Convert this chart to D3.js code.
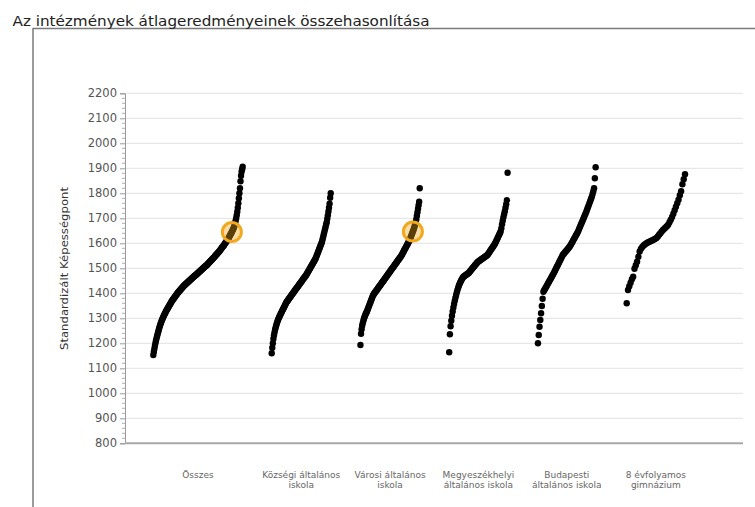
<!DOCTYPE html>
<html><head><meta charset="utf-8">
<script src="https://cdn.jsdelivr.net/npm/d3@7/dist/d3.min.js"></script>
<style>body{margin:0;background:#fff}svg{display:block}</style>
</head><body>
<svg id="chart" width="755" height="507"></svg>
<script>
// ---------------- data ----------------
const chartTitle = "Az intézmények átlageredményeinek összehasonlítása";
const yAxisTitle = "Standardizált Képességpont";
const categories = ["Összes", "Községi általános iskola", "Városi általános iskola",
  "Megyeszékhelyi általános iskola", "Budapesti általános iskola", "8 évfolyamos gimnázium"];
const categoryLabelLines = [["Összes"], ["Községi általános", "iskola"], ["Városi általános", "iskola"],
  ["Megyeszékhelyi", "általános iskola"], ["Budapesti", "általános iskola"], ["8 évfolyamos", "gimnázium"]];
const yTickValues = [800, 900, 1000, 1100, 1200, 1300, 1400, 1500, 1600, 1700, 1800, 1900, 2000, 2100, 2200];

const osszes = [1153,1166,1178,1190,1201,1211,1220,1229,1237,1245,1253,1261,1268,
  1275,1281,1287,1293,1298,1303,1308,1313,1317,1321,
  1326,1330,1334,1338,1341,1345,1349,1353,1356,1360,
  1364,1368,1371,1374,1377,1380,1383,1386,1389,1392,
  1395,1398,1401,1404,1406,1409,1411,1414,1416,1419,
  1421,1424,1426,1429,1431,1433,1435,1437,1439,1441,
  1443,1445,1447,1449,1451,1453,1455,1457,1459,1461,
  1463,1465,1467,1469,1471,1472,1474,1476,1478,1480,
  1482,1484,1486,1488,1490,1492,1494,1496,1498,1500,
  1502,1504,1506,1508,1510,1511,1513,1516,1518,1520,
  1523,1525,1527,1530,1532,1534,1537,1539,1541,1544,
  1546,1549,1551,1554,1556,1558,1561,1563,1566,1568,
  1571,1574,1577,1580,1583,1586,1588,1591,1594,1598,
  1601,1604,1607,1610,1613,1616,1620,1625,1629,1633,
  1637,1641,1645,1650,1654,1659,1664,1672,1681,1690,
  1700,1712,1726,1742,1760,1780,1800,1820,1848,1870,
  1886,1896,1906];
const kozsegi = [1160,1182,1200,1218,1232,1244,1255,1264,1272,1280,1287,
  1293,1299,1304,1309,1314,1319,1323,1328,1333,1337,
  1342,1346,1351,1356,1360,1365,1368,1371,1374,1378,
  1381,1384,1387,1390,1394,1397,1400,1403,1406,1410,
  1413,1416,1419,1422,1425,1428,1431,1435,1438,1441,
  1444,1447,1450,1454,1457,1460,1463,1466,1469,1472,
  1476,1480,1484,1488,1492,1496,1500,1504,1508,1512,
  1516,1520,1524,1528,1532,1536,1541,1547,1553,1559,
  1565,1571,1577,1583,1589,1595,1601,1608,1618,1627,
  1637,1646,1656,1665,1675,1684,1698,1712,1727,1742,
  1758,1782,1800];
const varosi = [1193,1238,1256,1270,1280,1289,1297,1304,1310,1316,
  1321,1325,1331,1337,1343,1349,1355,1361,1367,1373,
  1379,1385,1391,1395,1398,1402,1405,1408,1411,1414,
  1417,1421,1424,1427,1430,1433,1436,1440,1443,1446,
  1449,1452,1455,1459,1462,1465,1468,1471,1475,1478,
  1481,1484,1487,1491,1494,1497,1500,1503,1506,1509,
  1513,1516,1519,1522,1525,1529,1532,1535,1538,1541,
  1545,1548,1551,1555,1560,1564,1568,1573,1577,1581,
  1585,1590,1594,1598,1603,1607,1611,1617,1623,1629,
  1635,1641,1647,1653,1660,1668,1675,1684,1696,1710,
  1724,1738,1752,1766,1820];
const megyeszekhelyi = [1164,1236,1268,1290,1310,1327,1343,1357,1370,1382,
  1393,1404,1414,1423,1431,1438,1444,1450,1455,1460,
  1464,1467,1469,1471,1473,1475,1477,1479,1481,1484,
  1488,1491,1495,1498,1502,1505,1508,1512,1515,1518,
  1522,1525,1527,1529,1531,1533,1535,1537,1539,1541,
  1543,1545,1547,1549,1551,1553,1557,1561,1565,1570,
  1574,1578,1582,1586,1590,1595,1599,1605,1611,1617,
  1623,1629,1635,1641,1647,1660,1676,1690,1704,1716,
  1728,1742,1756,1772,1882];
const budapesti = [1200,1233,1266,1293,1320,1349,1378,1406,1412,1417,
  1423,1428,1434,1440,1445,1451,1456,1462,1468,1473,
  1479,1485,1491,1498,1504,1510,1516,1523,1529,1535,
  1541,1548,1554,1557,1561,1565,1569,1572,1576,1580,
  1584,1588,1593,1599,1604,1610,1616,1621,1627,1633,
  1638,1644,1651,1659,1666,1674,1681,1688,1696,1703,
  1711,1718,1726,1734,1743,1751,1760,1768,1777,1785,
  1796,1808,1820,1860,1904];
const gimnazium8 = [1360,1413,1428,1442,1456,1466,1498,1512,1526,1546,
  1567,1578,1585,1591,1595,1599,1602,1605,1607,1610,
  1612,1615,1618,1621,1627,1634,1640,1647,1653,1658,
  1663,1668,1674,1684,1694,1705,1718,1732,1746,1760,
  1774,1792,1808,1836,1856,1876];
const seriesValues = [osszes, kozsegi, varosi, megyeszekhelyi, budapesti, gimnazium8];

const highlightValue = 1645;
const highlightCategories = ["Összes", "Városi általános iskola"];

// ---------------- layout ----------------
const W = 755, H = 507;
const plot = {left: 125, right: 743, top: 93.3, bottom: 443.3};
const slotStart = [-0.334, 1, 2, 3, 4, 5];
const slotWidth = [1.007, 0.665, 0.668, 0.658, 0.65, 0.657];

const svg = d3.select("#chart");
const FONT = "'DejaVu Sans', Verdana, sans-serif";

const y = d3.scaleLinear().domain([800, 2200]).range([plot.bottom, plot.top]);
const x = d3.scaleLinear().domain([0, 6]).range([182.95, 182.95 + 6 * 88.75]);

// frame
svg.append("line").attr("x1", 33).attr("x2", W).attr("y1", 28.5).attr("y2", 28.5)
  .attr("stroke", "#7a7a7a").attr("stroke-width", 1.5);
svg.append("line").attr("x1", 33).attr("x2", 33).attr("y1", 28).attr("y2", H)
  .attr("stroke", "#7a7a7a").attr("stroke-width", 1.5);

// title
svg.append("text").attr("x", 12.5).attr("y", 25.5).text(chartTitle)
  .attr("font-family", FONT).attr("font-size", 14).attr("fill", "#222")
  .attr("textLength", 417).attr("lengthAdjust", "spacingAndGlyphs");

// gridlines
svg.append("g").selectAll("line").data(yTickValues.filter(d => d > 800)).join("line")
  .attr("x1", plot.left).attr("x2", plot.right)
  .attr("y1", d => y(d)).attr("y2", d => y(d))
  .attr("stroke", "#e2e2e2").attr("stroke-width", 1);

// y axis
const yAxis = d3.axisLeft(y).tickValues(yTickValues).tickSize(5).tickPadding(3).tickFormat(d3.format("d"));
const gy = svg.append("g").attr("transform", `translate(${plot.left},0)`).call(yAxis);
gy.select(".domain").attr("stroke", "#9a9a9a");
gy.selectAll(".tick line").attr("stroke", "#9a9a9a");
gy.selectAll(".tick text").attr("font-family", FONT).attr("font-size", 11.5).attr("fill", "#555");
// minor ticks
const minor = d3.range(800, 2200, 20).filter(d => d % 100 !== 0);
svg.append("g").selectAll("line").data(minor).join("line")
  .attr("x1", plot.left - 3).attr("x2", plot.left)
  .attr("y1", d => y(d)).attr("y2", d => y(d))
  .attr("stroke", "#b0b0b0").attr("stroke-width", 1);

// bottom axis line
svg.append("line").attr("x1", plot.left).attr("x2", plot.right)
  .attr("y1", y(800)).attr("y2", y(800)).attr("stroke", "#a8a8a8").attr("stroke-width", 2);

// y title
svg.append("text").attr("transform", `translate(68,268.5) rotate(-90)`)
  .attr("text-anchor", "middle").text(yAxisTitle)
  .attr("font-family", FONT).attr("font-size", 10.5).attr("fill", "#333")
  .attr("textLength", 163).attr("lengthAdjust", "spacingAndGlyphs");

// category labels
categories.forEach((c, i) => {
  const cx = x(slotStart[i] + slotWidth[i] / 2);
  const t = svg.append("text").attr("text-anchor", "middle")
    .attr("font-family", FONT).attr("font-size", 9).attr("fill", "#666");
  categoryLabelLines[i].forEach((line, j) => {
    t.append("tspan").attr("x", cx).attr("y", 478 + j * 10).text(line);
  });
});

// points
const pts = [];
seriesValues.forEach((vals, i) => {
  const n = vals.length;
  vals.forEach((v, k) => pts.push({cat: categories[i], v,
    px: x(slotStart[i] + (k / (n - 1)) * slotWidth[i])}));
});
svg.append("g").selectAll("circle").data(pts).join("circle")
  .attr("cx", d => d.px).attr("cy", d => y(d.v)).attr("r", 3.2).attr("fill", "#000");

// highlight rings
highlightCategories.forEach(cat => {
  const i = categories.indexOf(cat);
  const vals = seriesValues[i];
  const k = d3.minIndex(vals, v => Math.abs(v - highlightValue));
  const cx = x(slotStart[i] + (k / (vals.length - 1)) * slotWidth[i]);
  svg.append("circle").attr("cx", cx).attr("cy", y(vals[k])).attr("r", 9.5)
    .attr("fill", "rgba(240,165,20,0.38)").attr("stroke", "#f2a81d").attr("stroke-width", 3);
});
</script>
</body></html>
